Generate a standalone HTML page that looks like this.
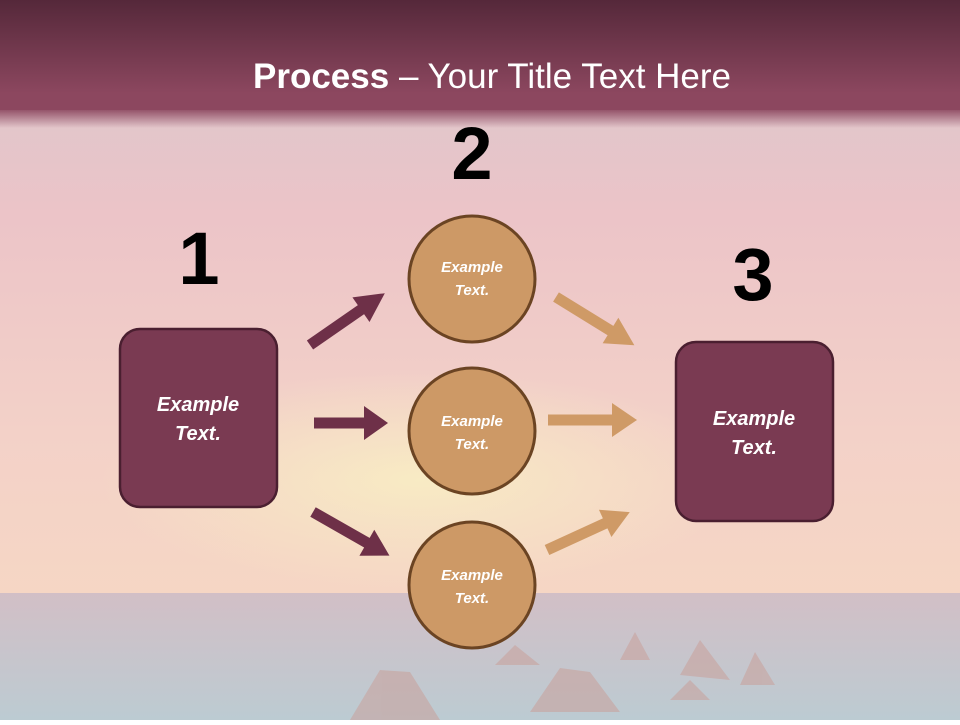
<!DOCTYPE html>
<html><head><meta charset="utf-8"><style>
body{margin:0;width:960px;height:720px;overflow:hidden;font-family:"Liberation Sans",sans-serif}
</style></head><body>
<svg width="960" height="720" viewBox="0 0 960 720" xmlns="http://www.w3.org/2000/svg">
<defs>
<linearGradient id="hdr" x1="0" y1="0" x2="0" y2="1">
<stop offset="0" stop-color="#55283a"/><stop offset="0.85" stop-color="#8c475f"/><stop offset="1" stop-color="#8c475f"/>
</linearGradient>
<linearGradient id="fade" x1="0" y1="0" x2="0" y2="1">
<stop offset="0" stop-color="#8c475f"/><stop offset="1" stop-color="#8c475f" stop-opacity="0"/>
</linearGradient>
<linearGradient id="sky" x1="0" y1="0" x2="0" y2="1">
<stop offset="0" stop-color="#d6c8cd"/><stop offset="0.3" stop-color="#ecc4c8"/><stop offset="0.6" stop-color="#f3d1c8"/><stop offset="0.85" stop-color="#f6d7c4"/><stop offset="1" stop-color="#efc6c6"/>
</linearGradient>
<radialGradient id="sun" cx="0.5" cy="0.5" r="0.5">
<stop offset="0" stop-color="#f8ebc4"/><stop offset="1" stop-color="#f8ebc4" stop-opacity="0"/>
</radialGradient>
<linearGradient id="sea" x1="0" y1="0" x2="0" y2="1">
<stop offset="0" stop-color="#d2bfc6"/><stop offset="1" stop-color="#bccbd2"/>
</linearGradient>
</defs>
<rect width="960" height="720" fill="url(#sky)"/>
<ellipse cx="420" cy="480" rx="320" ry="110" fill="url(#sun)"/>
<rect x="0" y="593" width="960" height="127" fill="url(#sea)"/>
<g fill="#c9a09a" opacity="0.55">
<path d="M350 720 L380 670 L410 672 L440 720Z"/>
<path d="M530 712 L560 668 L590 672 L620 712Z"/>
<path d="M495 665 L515 645 L540 665Z"/>
<path d="M620 660 L635 632 L650 660Z"/>
<path d="M680 675 L700 640 L730 680Z"/>
<path d="M740 685 L755 652 L775 685Z"/>
<path d="M670 700 L690 680 L710 700Z"/>
</g>
<rect x="0" y="0" width="960" height="110" fill="url(#hdr)"/>
<rect x="0" y="108" width="960" height="20" fill="url(#fade)"/>
<text x="492" y="88" text-anchor="middle" font-size="35" fill="#fff"><tspan font-weight="bold">Process</tspan> – Your Title Text Here</text>
<g font-weight="bold" font-size="74" fill="#000" text-anchor="middle">
<text x="199" y="284">1</text><text x="472" y="179">2</text><text x="753" y="300">3</text>
</g>
<g fill="#6e3048">
<g transform="translate(310,345) rotate(-34.7)"><rect x="0" y="-5.5" width="68" height="11"/><polygon points="62,-15 91,0 62,15"/></g>
<g transform="translate(314,423)"><rect x="0" y="-5.5" width="52" height="11"/><polygon points="50,-17 74,0 50,17"/></g>
<g transform="translate(313,512) rotate(29.7)"><rect x="0" y="-5.5" width="64" height="11"/><polygon points="62,-15 88,0 62,15"/></g>
</g>
<g fill="#cf9a66">
<g transform="translate(556,297) rotate(31.6)"><rect x="0" y="-5.5" width="68" height="11"/><polygon points="64,-15 92,0 64,15"/></g>
<g transform="translate(548,420)"><rect x="0" y="-5.5" width="66" height="11"/><polygon points="64,-17 89,0 64,17"/></g>
<g transform="translate(547,550) rotate(-24.6)"><rect x="0" y="-5.5" width="66" height="11"/><polygon points="64,-15 91,0 64,15"/></g>
</g>
<g fill="#7a3a52" stroke="#4a1f30" stroke-width="2.5">
<rect x="120" y="329" width="157" height="178" rx="20"/>
<rect x="676" y="342" width="157" height="179" rx="20"/>
</g>
<g fill="#cd9966" stroke="#6b4423" stroke-width="3">
<circle cx="472" cy="279" r="63"/><circle cx="472" cy="431" r="63"/><circle cx="472" cy="585" r="63"/>
</g>
<g fill="#fff" font-weight="bold" font-style="italic" text-anchor="middle">
<g font-size="20"><text x="198" y="411">Example</text><text x="198" y="440">Text.</text>
<text x="754" y="425">Example</text><text x="754" y="454">Text.</text></g>
<g font-size="15"><text x="472" y="272">Example</text><text x="472" y="295">Text.</text>
<text x="472" y="426">Example</text><text x="472" y="449">Text.</text>
<text x="472" y="580">Example</text><text x="472" y="603">Text.</text></g>
</g>
</svg>
</body></html>
